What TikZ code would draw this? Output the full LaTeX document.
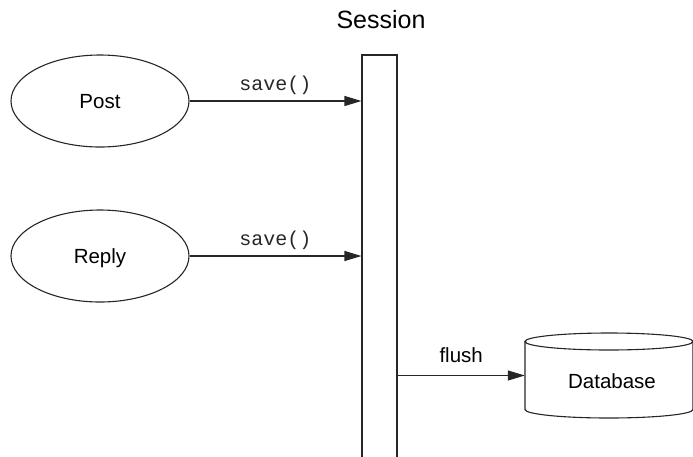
\documentclass[tikz,border=0pt]{standalone}
\usepackage{fontspec}
\setmainfont{Liberation Sans}
\setmonofont{Liberation Mono}
\usetikzlibrary{shapes.geometric,arrows.meta}
\begin{document}
\begin{tikzpicture}[x=1pt,y=-1pt,
  ln/.style={draw=black!85,line width=1.1pt},
  obj/.style={ellipse,ln,minimum width=178pt,minimum height=92pt,inner sep=0pt,
    text depth=0pt,font=\fontsize{20.5}{24}\selectfont},
  arr/.style={ln,-{Triangle[length=17pt,width=10pt]}},
  lbl/.style={font=\fontsize{20.5}{24}\selectfont,inner sep=0pt},
  code/.style={font=\fontsize{20}{24}\ttfamily,inner sep=0pt,text=black!85}]
\useasboundingbox (0,0) rectangle (693,456);
\node[obj] (post) at (100,101) {Post};
\node[obj] (reply) at (100,256) {Reply};
\node[ln,minimum width=35pt,minimum height=410pt,inner sep=0pt] (bar) at (379.5,260) {};
\node[lbl,text depth=0pt,font=\fontsize{25}{29}\selectfont] (session) at (381,19.5) {Session};
\node[minimum width=168pt,minimum height=85pt,inner sep=0pt] (db) at (609,375.5) {};
\draw[ln] (525,341.5) -- (525,409.5) arc[start angle=180,end angle=360,x radius=84pt,y radius=8.5pt]
  -- (693,341.5);
\draw[ln] (609,341.5) ellipse[x radius=84pt,y radius=8.5pt];
\node[lbl,text depth=0pt] at (612,381) {Database};
\draw[arr] (post.east) -- (post.east -| bar.west) node[midway,above=5.5pt,code] {save()};
\draw[arr] (reply.east) -- (reply.east -| bar.west) node[midway,above=5.5pt,code] {save()};
\draw[arr] (bar.east |- db.west) -- (db.west) node[midway,above=12.5pt,lbl] {flush};
\end{tikzpicture}
\end{document}
